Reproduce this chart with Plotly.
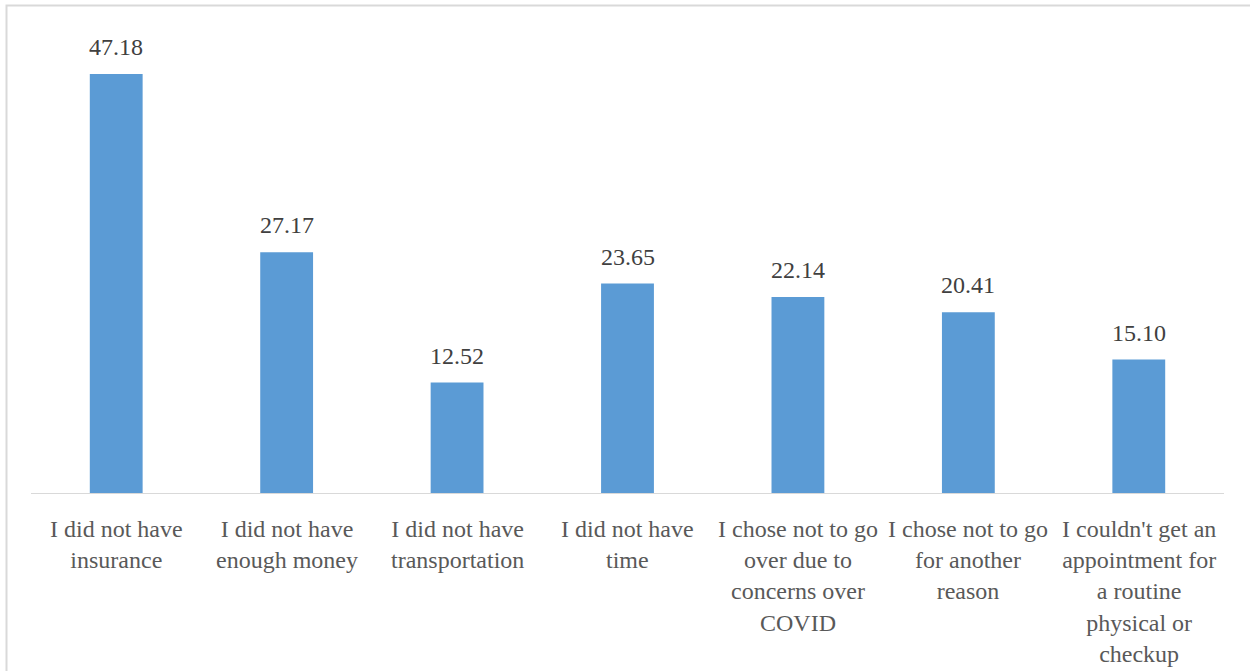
import plotly.graph_objects as go

categories = [
    "I did not have<br>insurance",
    "I did not have<br>enough money",
    "I did not have<br>transportation",
    "I did not have<br>time",
    "I chose not to go<br>over due to<br>concerns over<br>COVID",
    "I chose not to go<br>for another<br>reason",
    "I couldn't get an<br>appointment for<br>a routine<br>physical or<br>checkup",
]
values = [47.18, 27.17, 12.52, 23.65, 22.14, 20.41, 15.10]

FONT = "Liberation Serif"
x_pos = list(range(len(categories)))

fig = go.Figure(
    go.Bar(
        x=x_pos,
        y=values,
        marker=dict(color="#5B9BD5", line=dict(width=0)),
        width=0.31,
        hoverinfo="skip",
    )
)

# value labels above each bar
for xi, v in zip(x_pos, values):
    fig.add_annotation(
        x=xi, y=v, text=f"{v:.2f}", showarrow=False,
        yanchor="middle", yshift=27,
        font=dict(family=FONT, size=24, color="#404040"),
    )

# category labels below the baseline
for xi, c in zip(x_pos, categories):
    fig.add_annotation(
        x=xi, y=0, text=c, showarrow=False,
        yanchor="top", yshift=-20, align="center",
        font=dict(family=FONT, size=24, color="#595959"),
    )

# outer frame (top and left edges visible)
fig.add_shape(
    type="rect", xref="paper", yref="paper",
    x0=-24.5 / 1193, x1=1.5, y0=-0.6, y1=1 + 43.5 / 445,
    line=dict(color="#d9d9d9", width=2), fillcolor="rgba(0,0,0,0)",
    layer="below",
)

fig.update_layout(
    width=1250, height=671,
    margin=dict(l=31, r=26, t=49, b=177),
    paper_bgcolor="white", plot_bgcolor="white",
    showlegend=False,
    xaxis=dict(
        range=[-0.5, len(categories) - 0.5],
        showticklabels=False, showgrid=False, zeroline=False,
        showline=False, ticks="",
    ),
    yaxis=dict(
        range=[0, 50], visible=False, showgrid=False, zeroline=False,
    ),
)

# baseline
fig.add_shape(
    type="line", xref="paper", yref="y", x0=0, x1=1, y0=0, y1=0,
    line=dict(color="#d9d9d9", width=2),
)

fig.write_html("out.html")
